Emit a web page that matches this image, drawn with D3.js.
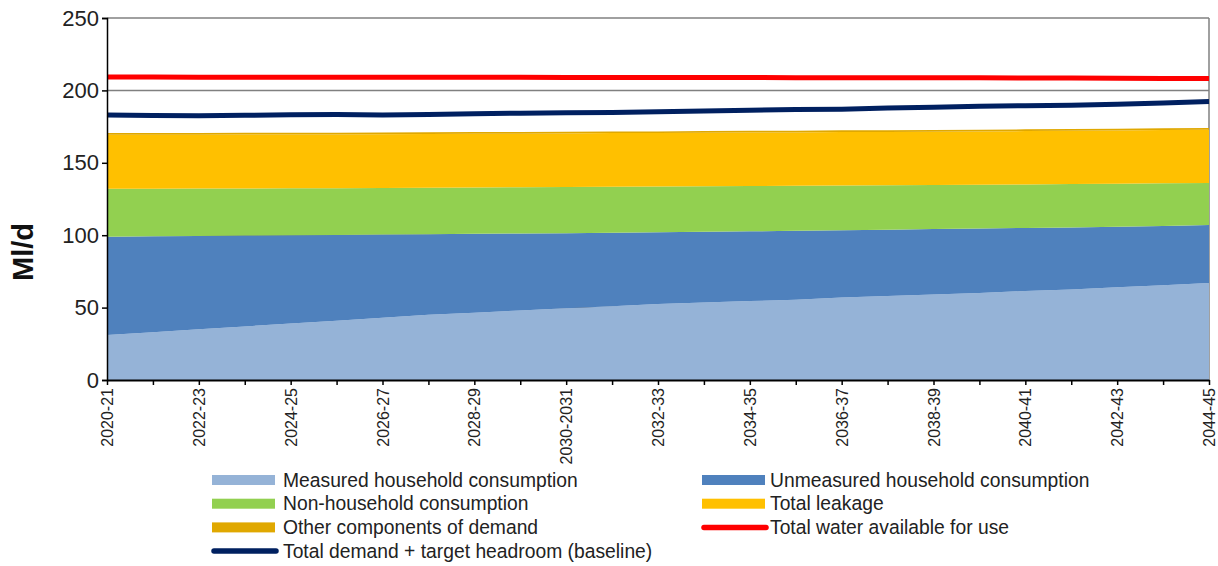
<!DOCTYPE html>
<html>
<head>
<meta charset="utf-8">
<script src="https://cdn.jsdelivr.net/npm/d3@7"></script>
<style>
	body { margin: 0; background: #fff; }
	svg { display: block; font-family: Arial, "Liberation Sans", sans-serif; }
</style>
</head>
<body>
<div id="chart"></div>
<script>
'use strict';

//Categories (financial years)
var years = ["2020-21","2021-22","2022-23","2023-24","2024-25","2025-26","2026-27","2027-28",
	"2028-29","2029-30","2030-2031","2031-32","2032-33","2033-34","2034-35","2035-36",
	"2036-37","2037-38","2038-39","2039-40","2040-41","2041-42","2042-43","2043-44","2044-45"];

//Stacked components (Ml/d)
var measured = [31,33,35,37,39,41,43,45,46.5,48,49.5,51,52.5,53.5,54.5,55.5,57,58,59,60,61.5,62.5,64,65.5,67];
var unmeasured = [68,66.2,64.5,62.8,61,59.2,57.4,55.7,54.5,53.2,51.9,50.7,49.5,48.8,48.2,47.5,46.4,45.8,45.2,44.6,43.5,42.9,41.9,40.9,40];
var nonHousehold = [33,32.9,32.7,32.5,32.4,32.3,32.2,32.1,32,31.9,31.9,31.8,31.6,31.5,31.3,31.1,30.9,30.7,30.5,30.3,30.1,29.9,29.6,29.4,29];
var leakage = [37.3,37.3,37.2,37.2,37.2,37.1,37.1,37.1,37,37,37,37,36.9,36.9,36.9,36.9,36.9,36.8,36.8,36.8,36.8,36.8,36.8,36.8,36.8];
var otherComponents = [1.2,1.2,1.2,1.2,1.2,1.2,1.2,1.2,1.2,1.2,1.2,1.2,1.2,1.2,1.2,1.2,1.2,1.2,1.2,1.2,1.2,1.2,1.2,1.2,1.2];

//Lines (Ml/d)
var demandHeadroom = [183,182.7,182.5,182.8,183.2,183.3,183,183.3,183.8,184.3,184.6,184.8,185.3,185.8,186.3,186.8,187,187.8,188.4,189,189.4,189.8,190.5,191.3,192.3];
var wafu = [209.2,209.2,209.1,209.1,209.1,209,209,209,209,209,208.9,208.9,208.9,208.9,208.9,208.8,208.7,208.7,208.7,208.7,208.6,208.5,208.4,208.3,208.3];

//Y ticks
var yTicks = [0,50,100,150,200,250];

/***************************************
 * SERIES DEFINITIONS
 ***************************************/
var areaSeries = [
	{key:'measured', name:'Measured household consumption', color:'#95b3d7', values:measured},
	{key:'unmeasured', name:'Unmeasured household consumption', color:'#4f81bd', values:unmeasured},
	{key:'nonHousehold', name:'Non-household consumption', color:'#92d050', values:nonHousehold},
	{key:'leakage', name:'Total leakage', color:'#ffc000', values:leakage},
	{key:'other', name:'Other components of demand', color:'#e0a800', values:otherComponents}
];
var lineSeries = [
	{key:'wafu', name:'Total water available for use', color:'#ff0000', values:wafu},
	{key:'demand', name:'Total demand + target headroom (baseline)', color:'#002060', values:demandHeadroom}
];

/***************************************
 * SIZING
 ***************************************/
var width = 1218, height = 566;
var margin = {top:18, right:9, bottom:186, left:107};
var innerW = width - margin.left - margin.right,
	innerH = height - margin.top - margin.bottom;

var svg = d3.select('#chart').append('svg')
	.attr('width', width)
	.attr('height', height);

var g = svg.append('g')
	.attr('transform', 'translate(' + margin.left + ',' + margin.top + ')');

/***************************************
 * SCALES
 ***************************************/
var x = d3.scalePoint().domain(years).range([0, innerW]);
var y = d3.scaleLinear().domain([0, 250]).range([innerH, 0]);

//Build table for d3.stack
var table = years.map(function(yr, i) {
	var row = {year: yr};
	areaSeries.forEach(function(s) { row[s.key] = s.values[i]; });
	return row;
});
var stacked = d3.stack().keys(areaSeries.map(function(s){return s.key;}))(table);

/***************************************
 * GRID + FRAME
 ***************************************/
g.append('g').selectAll('line')
	.data(yTicks.filter(function(t){return t > 0;}))
	.enter().append('line')
		.attr('x1', 0).attr('x2', innerW)
		.attr('y1', function(d){return y(d);})
		.attr('y2', function(d){return y(d);})
		.attr('stroke', '#808080')
		.attr('stroke-width', 1.5);

g.append('line')
	.attr('x1', innerW).attr('x2', innerW)
	.attr('y1', 0).attr('y2', innerH)
	.attr('stroke', '#808080')
	.attr('stroke-width', 1.5);

/***************************************
 * AREAS
 ***************************************/
var area = d3.area()
	.x(function(d){return x(d.data.year);})
	.y0(function(d){return y(d[0]);})
	.y1(function(d){return y(d[1]);});

g.append('g').selectAll('path')
	.data(stacked)
	.enter().append('path')
		.attr('fill', function(d, i){return areaSeries[i].color;})
		.attr('d', area);

/***************************************
 * LINES
 ***************************************/
var line = d3.line()
	.x(function(d, i){return x(years[i]);})
	.y(function(d){return y(d);});

g.append('g').selectAll('path')
	.data(lineSeries)
	.enter().append('path')
		.attr('fill', 'none')
		.attr('stroke', function(d){return d.color;})
		.attr('stroke-width', 5)
		.attr('d', function(d){return line(d.values);});

/***************************************
 * AXES
 ***************************************/
var yAxis = g.append('g')
	.call(d3.axisLeft(y).tickValues(yTicks).tickSize(5).tickPadding(3));
yAxis.select('.domain').attr('stroke', '#000').attr('stroke-width', 1.5);
yAxis.selectAll('.tick line').attr('stroke', '#000').attr('stroke-width', 1.5);
yAxis.selectAll('text')
	.style('font-size', '22px')
	.attr('fill', '#222');

var xAxis = g.append('g')
	.attr('transform', 'translate(0,' + innerH + ')')
	.call(d3.axisBottom(x).tickSize(5).tickSizeOuter(0)
		.tickFormat(function(d, i){return i % 2 === 0 ? d : '';}));
xAxis.select('.domain').attr('stroke', '#000').attr('stroke-width', 2);
xAxis.selectAll('.tick line').attr('stroke', '#000').attr('stroke-width', 1.5);
xAxis.selectAll('text')
	.style('font-size', '16px')
	.attr('fill', '#222')
	.attr('text-anchor', 'end')
	.attr('dy', '0.35em')
	.attr('transform', 'translate(0,8) rotate(-90)')
	.attr('x', 0).attr('y', 0);

//Y axis title
svg.append('text')
	.attr('transform', 'translate(33,252) rotate(-90)')
	.attr('text-anchor', 'middle')
	.style('font-size', '29px')
	.style('font-weight', 'bold')
	.attr('fill', '#111')
	.text('Ml/d');

/***************************************
 * LEGEND
 ***************************************/
var legendItems = [
	{s:areaSeries[0], col:0, row:0, type:'area'},
	{s:areaSeries[1], col:1, row:0, type:'area'},
	{s:areaSeries[2], col:0, row:1, type:'area'},
	{s:areaSeries[3], col:1, row:1, type:'area'},
	{s:areaSeries[4], col:0, row:2, type:'area'},
	{s:lineSeries[0], col:1, row:2, type:'line'},
	{s:lineSeries[1], col:0, row:3, type:'line'}
];
var colX = [212, 702], rowY0 = 480, rowH = 23.7, swatchW = 63;

var legend = svg.append('g').selectAll('g')
	.data(legendItems)
	.enter().append('g')
		.attr('transform', function(d){return 'translate(' + colX[d.col] + ',' + (rowY0 + d.row*rowH) + ')';});

legend.filter(function(d){return d.type === 'area';})
	.append('rect')
		.attr('x', 0).attr('y', -5)
		.attr('width', swatchW).attr('height', 10)
		.attr('fill', function(d){return d.s.color;});

legend.filter(function(d){return d.type === 'line';})
	.append('line')
		.attr('x1', 2).attr('x2', swatchW + 1)
		.attr('y1', 0).attr('y2', 0)
		.attr('stroke', function(d){return d.s.color;})
		.attr('stroke-width', 5.5)
		.attr('stroke-linecap', 'round');

legend.append('text')
	.attr('x', function(d){return d.col === 0 ? 71 : 68;})
	.attr('dy', '0.35em')
	.style('font-size', '19.3px')
	.attr('fill', '#222')
	.text(function(d){return d.s.name;});
</script>
</body>
</html>
